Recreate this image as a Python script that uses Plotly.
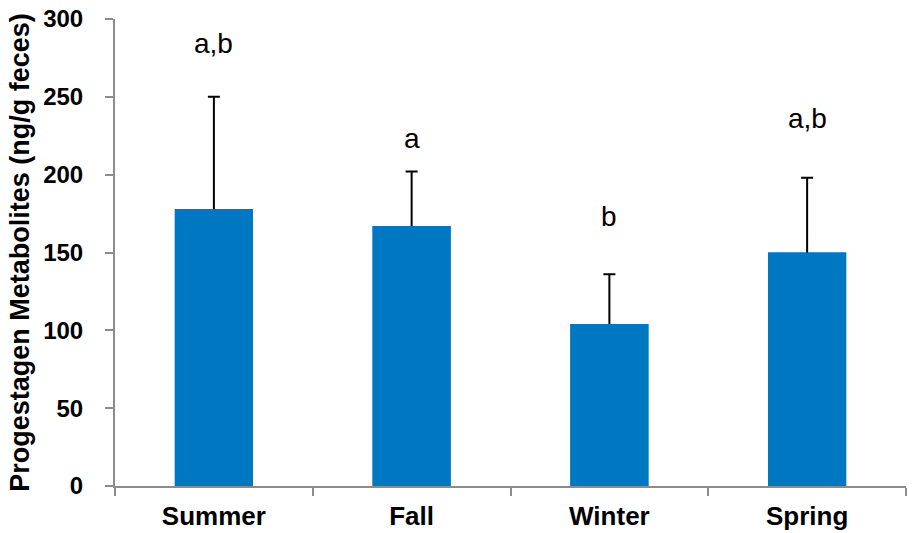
import plotly.graph_objects as go

seasons = ["Summer", "Fall", "Winter", "Spring"]
means = [178, 167, 104, 150]
errors = [72, 35, 32, 48]
letters = ["a,b", "a", "b", "a,b"]
letter_y = [284, 223, 173, 236]

FONT = "Liberation Sans, Arial"
BLUE = "#0078C1"
AXIS = "#8c8c8c"

fig = go.Figure()
# bar carrying the error bars (lower half hidden by the overlay bar)
fig.add_trace(go.Bar(
    x=seasons, y=means,
    marker=dict(color=BLUE, line=dict(width=0)),
    error_y=dict(type="data", array=errors, color="black", thickness=2, width=6),
    width=0.395, hoverinfo="skip",
))
fig.add_trace(go.Bar(
    x=seasons, y=means,
    marker=dict(color=BLUE, line=dict(width=0)),
    width=0.395,
))
for s, t, yy in zip(seasons, letters, letter_y):
    fig.add_annotation(x=s, y=yy, text=t, showarrow=False,
                       font=dict(family=FONT, size=28, color="black"),
                       yanchor="middle")

fig.update_layout(
    width=914, height=533,
    margin=dict(l=115, r=8, t=19, b=47, autoexpand=False),
    plot_bgcolor="white", paper_bgcolor="white",
    showlegend=False, barmode="overlay",
    font=dict(family=FONT, color="black"),
)
fig.update_xaxes(
    automargin=False,
    showline=True, linecolor=AXIS, linewidth=2,
    ticks="outside", tickcolor=AXIS, ticklen=8, tickwidth=1.5,
    tickson="boundaries", ticklabelstandoff=6,
    tickfont=dict(family=FONT, size=26, color="black", weight="bold"),
    showgrid=False,
)
fig.update_yaxes(
    automargin=False,
    range=[0, 300], tickvals=[0, 50, 100, 150, 200, 250, 300],
    showline=True, linecolor=AXIS, linewidth=2,
    ticks="outside", tickcolor=AXIS, ticklen=8, tickwidth=1.5,
    ticklabelstandoff=17, ticklabeloverflow="allow",
    tickfont=dict(family=FONT, size=24, color="black", weight="bold"),
    showgrid=False, zeroline=False,
    title=dict(text="Progestagen Metabolites (ng/g feces)", standoff=6,
               font=dict(family=FONT, size=27, color="black", weight="bold")),
)
fig.write_html("out.html", config={"displayModeBar": False},
               post_script="document.body.style.margin='0';document.body.style.overflow='hidden';")
